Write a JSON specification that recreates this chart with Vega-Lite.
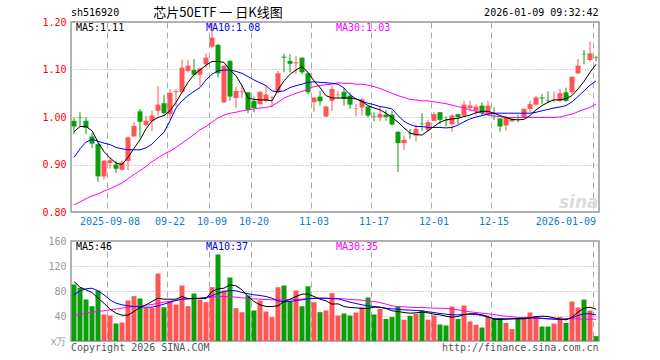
{
  "$schema": "https://vega.github.io/schema/vega-lite/v6.json",
  "padding": {"left": 41, "top": 6, "right": 5, "bottom": 3},
  "background": "white",
  "bounds": "flush",
  "spacing": 29,
  "config": {
    "view": {"stroke": "#999999", "strokeWidth": 1.5},
    "axis": {"labelFont": "DejaVu Sans Mono", "labelFontSize": 10, "ticks": false, "domain": false, "labelOverlap": false},
    "text": {"font": "DejaVu Sans Mono", "fontSize": 10}
  },
  "datasets": {
    "k": [
      {"d":"2025-08-29","o":0.992,"h":0.999,"l":0.964,"c":0.980,"v":90.4,"m5":0.969,"m10":0.915,"m30":0.815,"v5":95.2,"v10":73.9,"v30":40.3},
      {"d":"2025-09-01","o":1.000,"h":1.010,"l":0.980,"c":0.999,"v":85.1,"m5":0.980,"m10":0.933,"m30":0.821,"v5":86.1,"v10":80.3,"v30":42.4},
      {"d":"2025-09-02","o":0.992,"h":1.000,"l":0.964,"c":0.977,"v":66.4,"m5":0.980,"m10":0.947,"m30":0.828,"v5":81.9,"v10":83.5,"v30":44.5},
      {"d":"2025-09-03","o":0.959,"h":0.966,"l":0.935,"c":0.944,"v":55.7,"m5":0.971,"m10":0.953,"m30":0.834,"v5":77.6,"v10":84.5,"v30":46.1},
      {"d":"2025-09-04","o":0.943,"h":0.945,"l":0.863,"c":0.875,"v":80.8,"m5":0.947,"m10":0.949,"m30":0.838,"v5":68.5,"v10":80.3,"v30":47.2},
      {"d":"2025-09-05","o":0.875,"h":0.910,"l":0.868,"c":0.908,"v":42.4,"m5":0.927,"m10":0.945,"m30":0.844,"v5":60.5,"v10":73.9,"v30":48.3},
      {"d":"2025-09-08","o":0.903,"h":0.914,"l":0.891,"c":0.909,"v":40.8,"m5":0.914,"m10":0.942,"m30":0.849,"v5":50.9,"v10":65.9,"v30":49.9},
      {"d":"2025-09-09","o":0.900,"h":0.908,"l":0.882,"c":0.891,"v":28.0,"m5":0.903,"m10":0.936,"m30":0.855,"v5":44.5,"v10":60.5,"v30":50.9},
      {"d":"2025-09-10","o":0.889,"h":0.909,"l":0.887,"c":0.904,"v":29.6,"m5":0.900,"m10":0.933,"m30":0.861,"v5":41.3,"v10":57.9,"v30":52.5},
      {"d":"2025-09-11","o":0.907,"h":0.959,"l":0.888,"c":0.957,"v":64.8,"m5":0.915,"m10":0.931,"m30":0.870,"v5":41.3,"v10":56.3,"v30":54.1},
      {"d":"2025-09-12","o":0.959,"h":0.989,"l":0.958,"c":0.981,"v":71.7,"m5":0.934,"m10":0.931,"m30":0.879,"v5":47.2,"v10":55.2,"v30":55.2},
      {"d":"2025-09-15","o":1.012,"h":1.017,"l":0.957,"c":0.990,"v":68.0,"m5":0.952,"m10":0.931,"m30":0.887,"v5":53.6,"v10":54.7,"v30":56.3},
      {"d":"2025-09-16","o":0.983,"h":1.003,"l":0.980,"c":0.992,"v":53.0,"m5":0.975,"m10":0.935,"m30":0.896,"v5":57.9,"v10":54.1,"v30":57.3},
      {"d":"2025-09-17","o":0.991,"h":1.013,"l":0.970,"c":1.003,"v":53.0,"m5":0.992,"m10":0.943,"m30":0.906,"v5":63.2,"v10":54.1,"v30":58.4},
      {"d":"2025-09-18","o":1.013,"h":1.065,"l":1.003,"c":1.026,"v":108.0,"m5":0.999,"m10":0.956,"m30":0.914,"v5":68.5,"v10":56.3,"v30":60.5},
      {"d":"2025-09-19","o":1.029,"h":1.046,"l":1.006,"c":1.008,"v":54.1,"m5":1.003,"m10":0.968,"m30":0.922,"v5":66.9,"v10":59.0,"v30":62.1},
      {"d":"2025-09-22","o":1.006,"h":1.059,"l":0.994,"c":1.051,"v":63.7,"m5":1.013,"m10":0.992,"m30":0.928,"v5":66.9,"v10":62.1,"v30":63.7},
      {"d":"2025-09-23","o":1.052,"h":1.059,"l":1.022,"c":1.054,"v":58.4,"m5":1.031,"m10":1.019,"m30":0.936,"v5":66.9,"v10":64.8,"v30":65.3},
      {"d":"2025-09-24","o":1.052,"h":1.121,"l":1.052,"c":1.104,"v":88.8,"m5":1.052,"m10":1.034,"m30":0.945,"v5":71.2,"v10":66.9,"v30":66.9},
      {"d":"2025-09-25","o":1.097,"h":1.120,"l":1.094,"c":1.108,"v":55.7,"m5":1.073,"m10":1.045,"m30":0.954,"v5":68.0,"v10":67.5,"v30":67.5},
      {"d":"2025-09-26","o":1.099,"h":1.122,"l":1.087,"c":1.089,"v":76.0,"m5":1.089,"m10":1.054,"m30":0.963,"v5":68.0,"v10":68.0,"v30":68.0},
      {"d":"2025-09-29","o":1.089,"h":1.104,"l":1.065,"c":1.102,"v":66.4,"m5":1.099,"m10":1.062,"m30":0.973,"v5":68.0,"v10":68.5,"v30":68.5},
      {"d":"2025-09-30","o":1.111,"h":1.134,"l":1.104,"c":1.125,"v":62.1,"m5":1.109,"m10":1.078,"m30":0.980,"v5":68.0,"v10":69.6,"v30":69.1},
      {"d":"2025-10-09","o":1.148,"h":1.200,"l":1.145,"c":1.167,"v":86.1,"m5":1.117,"m10":1.090,"m30":0.989,"v5":79.2,"v10":72.3,"v30":70.1},
      {"d":"2025-10-10","o":1.152,"h":1.153,"l":1.083,"c":1.092,"v":138.4,"m5":1.117,"m10":1.097,"m30":0.998,"v5":83.5,"v10":76.5,"v30":71.2},
      {"d":"2025-10-13","o":1.031,"h":1.109,"l":1.029,"c":1.108,"v":80.8,"m5":1.115,"m10":1.099,"m30":1.004,"v5":84.5,"v10":79.2,"v30":71.2},
      {"d":"2025-10-14","o":1.118,"h":1.120,"l":1.034,"c":1.043,"v":101.6,"m5":1.099,"m10":1.099,"m30":1.008,"v5":89.9,"v10":80.8,"v30":70.7},
      {"d":"2025-10-15","o":1.040,"h":1.064,"l":1.019,"c":1.055,"v":52.5,"m5":1.087,"m10":1.096,"m30":1.010,"v5":88.3,"v10":80.3,"v30":70.1},
      {"d":"2025-10-16","o":1.052,"h":1.066,"l":1.040,"c":1.054,"v":46.1,"m5":1.066,"m10":1.092,"m30":1.013,"v5":81.9,"v10":77.6,"v30":69.1},
      {"d":"2025-10-17","o":1.052,"h":1.052,"l":1.008,"c":1.015,"v":72.8,"m5":1.040,"m10":1.085,"m30":1.015,"v5":71.2,"v10":75.5,"v30":68.0},
      {"d":"2025-10-20","o":1.034,"h":1.043,"l":1.010,"c":1.019,"v":48.8,"m5":1.037,"m10":1.078,"m30":1.017,"v5":63.2,"v10":73.9,"v30":67.5},
      {"d":"2025-10-21","o":1.027,"h":1.054,"l":1.026,"c":1.053,"v":64.8,"m5":1.036,"m10":1.072,"m30":1.019,"v5":57.9,"v10":72.8,"v30":66.9},
      {"d":"2025-10-22","o":1.034,"h":1.066,"l":1.031,"c":1.047,"v":47.2,"m5":1.036,"m10":1.066,"m30":1.020,"v5":55.2,"v10":71.2,"v30":66.4},
      {"d":"2025-10-23","o":1.041,"h":1.045,"l":1.020,"c":1.042,"v":38.1,"m5":1.034,"m10":1.055,"m30":1.023,"v5":55.2,"v10":68.5,"v30":65.9},
      {"d":"2025-10-24","o":1.052,"h":1.097,"l":1.050,"c":1.092,"v":86.1,"m5":1.057,"m10":1.053,"m30":1.031,"v5":56.3,"v10":64.3,"v30":65.9},
      {"d":"2025-10-27","o":1.127,"h":1.133,"l":1.094,"c":1.125,"v":88.8,"m5":1.076,"m10":1.055,"m30":1.040,"v5":63.2,"v10":62.7,"v30":65.9},
      {"d":"2025-10-28","o":1.118,"h":1.132,"l":1.094,"c":1.112,"v":63.2,"m5":1.090,"m10":1.062,"m30":1.045,"v5":66.9,"v10":63.2,"v30":65.9},
      {"d":"2025-10-29","o":1.113,"h":1.129,"l":1.090,"c":1.115,"v":80.8,"m5":1.099,"m10":1.066,"m30":1.050,"v5":71.2,"v10":64.8,"v30":66.4},
      {"d":"2025-10-30","o":1.125,"h":1.125,"l":1.090,"c":1.094,"v":55.7,"m5":1.106,"m10":1.069,"m30":1.054,"v5":75.0,"v10":65.9,"v30":66.9},
      {"d":"2025-10-31","o":1.092,"h":1.094,"l":1.048,"c":1.052,"v":87.5,"m5":1.094,"m10":1.073,"m30":1.059,"v5":75.0,"v10":67.5,"v30":67.5},
      {"d":"2025-11-03","o":1.031,"h":1.041,"l":1.011,"c":1.041,"v":62.1,"m5":1.076,"m10":1.074,"m30":1.064,"v5":71.2,"v10":68.5,"v30":68.0},
      {"d":"2025-11-04","o":1.043,"h":1.055,"l":1.024,"c":1.033,"v":46.1,"m5":1.062,"m10":1.073,"m30":1.066,"v5":66.9,"v10":68.5,"v30":68.5},
      {"d":"2025-11-05","o":1.001,"h":1.024,"l":1.000,"c":1.022,"v":48.8,"m5":1.045,"m10":1.072,"m30":1.068,"v5":64.3,"v10":68.5,"v30":68.5},
      {"d":"2025-11-06","o":1.034,"h":1.066,"l":1.013,"c":1.059,"v":76.5,"m5":1.040,"m10":1.071,"m30":1.069,"v5":59.0,"v10":67.5,"v30":68.5},
      {"d":"2025-11-07","o":1.046,"h":1.055,"l":1.040,"c":1.047,"v":40.8,"m5":1.040,"m10":1.069,"m30":1.072,"v5":59.5,"v10":67.5,"v30":68.0},
      {"d":"2025-11-10","o":1.053,"h":1.062,"l":1.024,"c":1.038,"v":44.0,"m5":1.040,"m10":1.061,"m30":1.071,"v5":55.2,"v10":64.8,"v30":67.5},
      {"d":"2025-11-11","o":1.045,"h":1.052,"l":1.017,"c":1.026,"v":40.8,"m5":1.040,"m10":1.047,"m30":1.071,"v5":53.6,"v10":62.1,"v30":66.4},
      {"d":"2025-11-12","o":1.017,"h":1.027,"l":1.001,"c":1.018,"v":45.6,"m5":1.038,"m10":1.038,"m30":1.069,"v5":53.1,"v10":60.0,"v30":65.9},
      {"d":"2025-11-13","o":1.020,"h":1.040,"l":1.003,"c":1.037,"v":54.1,"m5":1.033,"m10":1.033,"m30":1.069,"v5":52.0,"v10":57.9,"v30":65.3},
      {"d":"2025-11-14","o":1.022,"h":1.022,"l":0.999,"c":1.003,"v":69.6,"m5":1.024,"m10":1.029,"m30":1.067,"v5":52.0,"v10":56.3,"v30":64.3},
      {"d":"2025-11-17","o":1.001,"h":1.010,"l":0.991,"c":1.000,"v":42.4,"m5":1.019,"m10":1.026,"m30":1.064,"v5":54.1,"v10":55.2,"v30":63.2},
      {"d":"2025-11-18","o":0.999,"h":1.022,"l":0.991,"c":1.006,"v":51.5,"m5":1.015,"m10":1.022,"m30":1.060,"v5":54.1,"v10":54.1,"v30":61.6},
      {"d":"2025-11-19","o":1.005,"h":1.015,"l":0.992,"c":1.000,"v":35.2,"m5":1.008,"m10":1.020,"m30":1.055,"v5":52.0,"v10":52.5,"v30":59.0},
      {"d":"2025-11-20","o":1.005,"h":1.013,"l":0.982,"c":0.984,"v":38.4,"m5":0.999,"m10":1.017,"m30":1.050,"v5":48.3,"v10":51.5,"v30":56.3},
      {"d":"2025-11-21","o":0.969,"h":0.970,"l":0.884,"c":0.945,"v":55.2,"m5":0.989,"m10":1.003,"m30":1.045,"v5":47.2,"v10":50.9,"v30":55.2},
      {"d":"2025-11-24","o":0.945,"h":0.961,"l":0.931,"c":0.952,"v":34.1,"m5":0.977,"m10":0.991,"m30":1.041,"v5":45.6,"v10":49.9,"v30":54.7},
      {"d":"2025-11-25","o":0.965,"h":0.975,"l":0.954,"c":0.964,"v":40.3,"m5":0.966,"m10":0.984,"m30":1.037,"v5":44.5,"v10":49.3,"v30":54.1},
      {"d":"2025-11-26","o":0.961,"h":0.984,"l":0.949,"c":0.975,"v":43.5,"m5":0.963,"m10":0.980,"m30":1.036,"v5":45.1,"v10":48.8,"v30":53.6},
      {"d":"2025-11-27","o":0.986,"h":1.008,"l":0.971,"c":0.985,"v":48.8,"m5":0.962,"m10":0.980,"m30":1.034,"v5":46.1,"v10":48.3,"v30":53.6},
      {"d":"2025-11-28","o":0.973,"h":0.994,"l":0.969,"c":0.989,"v":34.1,"m5":0.971,"m10":0.978,"m30":1.034,"v5":45.1,"v10":46.7,"v30":53.1},
      {"d":"2025-12-01","o":0.992,"h":1.010,"l":0.992,"c":1.006,"v":40.8,"m5":0.980,"m10":0.978,"m30":1.032,"v5":42.9,"v10":45.6,"v30":52.5},
      {"d":"2025-12-02","o":1.010,"h":1.010,"l":0.985,"c":0.994,"v":26.4,"m5":0.989,"m10":0.978,"m30":1.030,"v5":41.9,"v10":44.0,"v30":52.5},
      {"d":"2025-12-03","o":0.993,"h":1.001,"l":0.980,"c":0.992,"v":24.8,"m5":0.994,"m10":0.977,"m30":1.028,"v5":39.7,"v10":42.9,"v30":52.0},
      {"d":"2025-12-04","o":0.985,"h":1.006,"l":0.969,"c":1.003,"v":55.2,"m5":0.996,"m10":0.978,"m30":1.025,"v5":38.1,"v10":41.9,"v30":51.5},
      {"d":"2025-12-05","o":1.006,"h":1.006,"l":0.985,"c":1.000,"v":35.2,"m5":0.997,"m10":0.983,"m30":1.022,"v5":39.2,"v10":41.9,"v30":49.9},
      {"d":"2025-12-08","o":1.003,"h":1.034,"l":1.003,"c":1.026,"v":56.8,"m5":1.001,"m10":0.990,"m30":1.019,"v5":42.4,"v10":42.4,"v30":48.3},
      {"d":"2025-12-09","o":1.019,"h":1.034,"l":1.013,"c":1.024,"v":31.2,"m5":1.004,"m10":0.996,"m30":1.015,"v5":43.5,"v10":42.9,"v30":46.7},
      {"d":"2025-12-10","o":1.013,"h":1.027,"l":1.003,"c":1.022,"v":25.9,"m5":1.009,"m10":1.000,"m30":1.012,"v5":43.5,"v10":42.4,"v30":45.6},
      {"d":"2025-12-11","o":1.024,"h":1.031,"l":1.003,"c":1.008,"v":21.6,"m5":1.012,"m10":1.003,"m30":1.008,"v5":41.9,"v10":40.8,"v30":44.5},
      {"d":"2025-12-12","o":1.006,"h":1.034,"l":1.003,"c":1.024,"v":38.4,"m5":1.012,"m10":1.006,"m30":1.004,"v5":39.2,"v10":38.1,"v30":43.5},
      {"d":"2025-12-15","o":1.007,"h":1.020,"l":0.994,"c":1.006,"v":36.8,"m5":1.008,"m10":1.008,"m30":1.002,"v5":34.9,"v10":36.0,"v30":42.4},
      {"d":"2025-12-16","o":0.997,"h":0.997,"l":0.969,"c":0.980,"v":36.8,"m5":1.003,"m10":1.008,"m30":1.001,"v5":34.4,"v10":35.5,"v30":40.8},
      {"d":"2025-12-17","o":0.982,"h":1.003,"l":0.971,"c":0.999,"v":28.8,"m5":0.999,"m10":1.008,"m30":0.999,"v5":34.9,"v10":35.5,"v30":39.7},
      {"d":"2025-12-18","o":0.991,"h":0.999,"l":0.989,"c":0.996,"v":19.2,"m5":0.995,"m10":1.008,"m30":0.999,"v5":35.5,"v10":35.5,"v30":38.7},
      {"d":"2025-12-19","o":1.000,"h":1.005,"l":0.989,"c":0.999,"v":36.8,"m5":0.994,"m10":1.008,"m30":0.999,"v5":35.5,"v10":36.0,"v30":37.6},
      {"d":"2025-12-22","o":0.999,"h":1.019,"l":0.998,"c":1.017,"v":38.4,"m5":0.995,"m10":1.008,"m30":0.999,"v5":35.5,"v10":36.5,"v30":37.1},
      {"d":"2025-12-23","o":1.017,"h":1.034,"l":1.010,"c":1.027,"v":45.6,"m5":1.003,"m10":1.008,"m30":0.999,"v5":37.1,"v10":37.1,"v30":36.5},
      {"d":"2025-12-24","o":1.026,"h":1.045,"l":1.024,"c":1.041,"v":38.4,"m5":1.015,"m10":1.010,"m30":0.999,"v5":39.2,"v10":37.1,"v30":36.0},
      {"d":"2025-12-25","o":1.041,"h":1.048,"l":1.027,"c":1.039,"v":23.2,"m5":1.024,"m10":1.013,"m30":0.999,"v5":39.7,"v10":36.5,"v30":36.0},
      {"d":"2025-12-26","o":1.035,"h":1.054,"l":1.029,"c":1.034,"v":23.2,"m5":1.031,"m10":1.016,"m30":0.999,"v5":39.2,"v10":35.5,"v30":35.5},
      {"d":"2025-12-29","o":1.037,"h":1.054,"l":1.031,"c":1.038,"v":28.0,"m5":1.036,"m10":1.019,"m30":0.999,"v5":37.1,"v10":34.9,"v30":35.5},
      {"d":"2025-12-30","o":1.034,"h":1.059,"l":1.031,"c":1.050,"v":38.4,"m5":1.036,"m10":1.021,"m30":1.000,"v5":34.9,"v10":34.4,"v30":35.5},
      {"d":"2025-12-31","o":1.052,"h":1.062,"l":1.031,"c":1.034,"v":28.8,"m5":1.039,"m10":1.024,"m30":1.003,"v5":33.9,"v10":34.9,"v30":35.5},
      {"d":"2026-01-05","o":1.052,"h":1.085,"l":1.048,"c":1.085,"v":63.2,"m5":1.045,"m10":1.032,"m30":1.006,"v5":38.1,"v10":37.1,"v30":35.5},
      {"d":"2026-01-06","o":1.092,"h":1.122,"l":1.090,"c":1.108,"v":53.6,"m5":1.059,"m10":1.043,"m30":1.011,"v5":46.1,"v10":40.8,"v30":35.5},
      {"d":"2026-01-07","o":1.133,"h":1.141,"l":1.111,"c":1.132,"v":66.4,"m5":1.075,"m10":1.055,"m30":1.016,"v5":52.5,"v10":43.5,"v30":34.9},
      {"d":"2026-01-08","o":1.120,"h":1.159,"l":1.117,"c":1.134,"v":48.8,"m5":1.094,"m10":1.067,"m30":1.020,"v5":54.1,"v10":43.5,"v30":34.9},
      {"d":"2026-01-09","o":1.125,"h":1.129,"l":1.118,"c":1.124,"v":7.7,"m5":1.111,"m10":1.076,"m30":1.027,"v5":50.9,"v10":41.9,"v30":34.9}
    ]
  },
  "data": {"name": "k"},
  "vconcat": [
    {
      "width": 528,
      "height": 190,
      "layer": [
        {
          "mark": {"type": "rule", "strokeWidth": 1},
          "encoding": {
            "x": {
              "field": "d", "type": "ordinal", "title": null,
              "scale": {"type": "band", "paddingInner": 0.1667, "paddingOuter": 0.0833},
              "axis": {
                "values": ["2025-09-08","2025-09-22","2025-10-09","2025-10-20","2025-11-03","2025-11-17","2025-12-01","2025-12-15","2026-01-09"],
                "bandPosition": 0, "labelAngle": 0, "labelPadding": 4,
                "labelColor": "#0b7dd6",
                "labelExpr": "datum.value == '2025-09-08' || datum.value == '2026-01-09' ? datum.value : substring(datum.value, 5)",
                "labelAlign": {"condition": {"test": "datum.value == '2026-01-09'", "value": "right"}, "value": "center"},
                "grid": true, "gridColor": "#aaaaaa", "gridDash": [6, 4], "gridWidth": 1
              }
            },
            "y": {
              "field": "l", "type": "quantitative", "title": null,
              "scale": {"domain": [0.8, 1.2], "nice": false, "zero": false},
              "axis": {
                "values": [0.8, 0.9, 1.0, 1.1, 1.2], "format": ".2f",
                "labelColor": "#ff0000", "labelPadding": 5,
                "grid": true, "gridColor": "#aaaaaa", "gridDash": [1, 2]
              }
            },
            "y2": {"field": "h"},
            "color": {"condition": {"test": "datum.c >= datum.o", "value": "#ff5555"}, "value": "#0a9e0a"}
          }
        },
        {
          "mark": {"type": "bar", "minBandSize": 1},
          "encoding": {
            "x": {"field": "d", "type": "ordinal"},
            "y": {"field": "o", "type": "quantitative"},
            "y2": {"field": "c"},
            "color": {"condition": {"test": "datum.c >= datum.o", "value": "#ff5555"}, "value": "#0a9e0a"}
          }
        },
        {
          "mark": {"type": "line", "strokeWidth": 1, "color": "#ff00ff"},
          "encoding": {"x": {"field": "d", "type": "ordinal"}, "y": {"field": "m30", "type": "quantitative"}}
        },
        {
          "mark": {"type": "line", "strokeWidth": 1, "color": "#0000ff"},
          "encoding": {"x": {"field": "d", "type": "ordinal"}, "y": {"field": "m10", "type": "quantitative"}}
        },
        {
          "mark": {"type": "line", "strokeWidth": 1, "color": "#000000"},
          "encoding": {"x": {"field": "d", "type": "ordinal"}, "y": {"field": "m5", "type": "quantitative"}}
        },
        {
          "data": {"values": [{}]},
          "mark": {"type": "text", "text": "sina", "align": "right", "baseline": "alphabetic", "font": "DejaVu Sans", "fontSize": 17, "fontStyle": "italic", "fontWeight": "bold", "color": "#dcdcdc", "dy": -4},
          "encoding": {"x": {"datum": "2026-01-09", "type": "ordinal", "bandPosition": 1}, "y": {"datum": 0.8, "type": "quantitative"}}
        },
        {
          "data": {"values": [{}]},
          "mark": {"type": "text", "text": "MA5:1.11", "align": "left", "baseline": "top", "color": "#000000", "dx": 4.5, "dy": 1},
          "encoding": {"x": {"datum": "2025-08-29", "type": "ordinal", "bandPosition": 0}, "y": {"datum": 1.2, "type": "quantitative"}}
        },
        {
          "data": {"values": [{}]},
          "mark": {"type": "text", "text": "MA10:1.08", "align": "left", "baseline": "top", "color": "#0000ff", "dx": 2.5, "dy": 1},
          "encoding": {"x": {"datum": "2025-09-30", "type": "ordinal", "bandPosition": 0}, "y": {"datum": 1.2, "type": "quantitative"}}
        },
        {
          "data": {"values": [{}]},
          "mark": {"type": "text", "text": "MA30:1.03", "align": "left", "baseline": "top", "color": "#ff00ff", "dx": 0.5, "dy": 1},
          "encoding": {"x": {"datum": "2025-11-07", "type": "ordinal", "bandPosition": 0}, "y": {"datum": 1.2, "type": "quantitative"}}
        },
        {
          "data": {"values": [{}]},
          "mark": {"type": "text", "text": "sh516920", "align": "left", "baseline": "alphabetic", "color": "#000000", "dx": -0.5, "dy": -6},
          "encoding": {"x": {"datum": "2025-08-29", "type": "ordinal", "bandPosition": 0}, "y": {"datum": 1.2, "type": "quantitative"}}
        },
        {
          "data": {"values": [{}]},
          "mark": {"type": "text", "text": "芯片50ETF 一 日K线图", "align": "center", "baseline": "alphabetic", "font": "Noto Sans CJK SC", "fontSize": 13, "color": "#000000", "dy": -5},
          "encoding": {"x": {"datum": "2025-10-10", "type": "ordinal"}, "y": {"datum": 1.2, "type": "quantitative"}}
        },
        {
          "data": {"values": [{}]},
          "mark": {"type": "text", "text": "2026-01-09 09:32:42", "align": "right", "baseline": "alphabetic", "color": "#000000", "dy": -6},
          "encoding": {"x": {"datum": "2026-01-09", "type": "ordinal", "bandPosition": 1}, "y": {"datum": 1.2, "type": "quantitative"}}
        }
      ]
    },
    {
      "width": 528,
      "height": 100,
      "layer": [
        {
          "mark": {"type": "bar"},
          "encoding": {
            "x": {
              "field": "d", "type": "ordinal", "title": null,
              "scale": {"type": "band", "paddingInner": 0.1667, "paddingOuter": 0.0833},
              "axis": {
                "values": ["2025-09-08","2025-09-22","2025-10-09","2025-10-20","2025-11-03","2025-11-17","2025-12-01","2025-12-15","2026-01-09"],
                "bandPosition": 0, "labels": false,
                "grid": true, "gridColor": "#aaaaaa", "gridDash": [6, 4], "gridWidth": 1
              }
            },
            "y": {
              "field": "v", "type": "quantitative", "title": null,
              "scale": {"domain": [0, 160], "nice": false},
              "axis": {
                "values": [0, 40, 80, 120, 160], "tickCount": 5,
                "labelExpr": "datum.value == 0 ? 'x万' : datum.label",
                "labelColor": "#999999", "labelPadding": 5, "labelOverlap": false,
                "grid": true, "gridColor": "#aaaaaa", "gridDash": [1, 2]
              }
            },
            "color": {"condition": {"test": "datum.c >= datum.o", "value": "#ff5555"}, "value": "#0a9e0a"}
          }
        },
        {
          "mark": {"type": "line", "strokeWidth": 1, "color": "#ff00ff"},
          "encoding": {"x": {"field": "d", "type": "ordinal"}, "y": {"field": "v30", "type": "quantitative"}}
        },
        {
          "mark": {"type": "line", "strokeWidth": 1, "color": "#0000ff"},
          "encoding": {"x": {"field": "d", "type": "ordinal"}, "y": {"field": "v10", "type": "quantitative"}}
        },
        {
          "mark": {"type": "line", "strokeWidth": 1, "color": "#000000"},
          "encoding": {"x": {"field": "d", "type": "ordinal"}, "y": {"field": "v5", "type": "quantitative"}}
        },
        {
          "data": {"values": [{}]},
          "mark": {"type": "text", "text": "MA5:46", "align": "left", "baseline": "top", "color": "#000000", "dx": 4.5, "dy": 1},
          "encoding": {"x": {"datum": "2025-08-29", "type": "ordinal", "bandPosition": 0}, "y": {"datum": 160, "type": "quantitative"}}
        },
        {
          "data": {"values": [{}]},
          "mark": {"type": "text", "text": "MA10:37", "align": "left", "baseline": "top", "color": "#0000ff", "dx": 2.5, "dy": 1},
          "encoding": {"x": {"datum": "2025-09-30", "type": "ordinal", "bandPosition": 0}, "y": {"datum": 160, "type": "quantitative"}}
        },
        {
          "data": {"values": [{}]},
          "mark": {"type": "text", "text": "MA30:35", "align": "left", "baseline": "top", "color": "#ff00ff", "dx": 0.5, "dy": 1},
          "encoding": {"x": {"datum": "2025-11-07", "type": "ordinal", "bandPosition": 0}, "y": {"datum": 160, "type": "quantitative"}}
        },
        {
          "data": {"values": [{}]},
          "mark": {"type": "text", "text": "Copyright 2026 SINA.COM", "align": "left", "baseline": "top", "color": "#555555", "dx": -0.5, "dy": 1.5},
          "encoding": {"x": {"datum": "2025-08-29", "type": "ordinal", "bandPosition": 0}, "y": {"datum": 0, "type": "quantitative"}}
        },
        {
          "data": {"values": [{}]},
          "mark": {"type": "text", "text": "http://finance.sina.com.cn", "align": "right", "baseline": "top", "color": "#555555", "dy": 1.5},
          "encoding": {"x": {"datum": "2026-01-09", "type": "ordinal", "bandPosition": 1}, "y": {"datum": 0, "type": "quantitative"}}
        }
      ]
    }
  ]
}
